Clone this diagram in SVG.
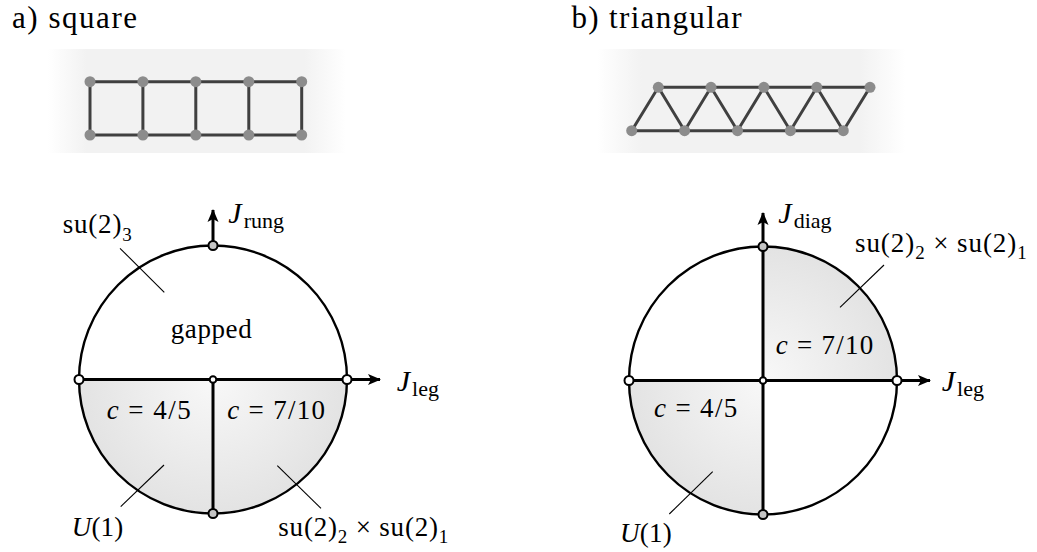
<svg xmlns="http://www.w3.org/2000/svg" width="1037" height="552" viewBox="0 0 1037 552">
<style>
text{font-family:"Liberation Serif","Times New Roman",serif;fill:#000}
.title{font-size:31px}
.lbl{font-size:27px}
.it{font-style:italic}
.sub{font-size:19px}
.jl{font-size:30px}
.js{font-size:22px}
.edge{stroke:#404040;stroke-width:3;fill:none}
.site{fill:#8c8c8c}
.rim{fill:none;stroke:#000;stroke-width:2.4}
.axis{stroke:#000;stroke-width:3;fill:none}
.lead{stroke:#000;stroke-width:1.1;fill:none}
.pw{fill:#fff;stroke:#000;stroke-width:2}
.pg{fill:#c4c4c4;stroke:#000;stroke-width:2}
</style>
<defs>
<linearGradient id="bgA" gradientUnits="userSpaceOnUse" x1="48" y1="0" x2="346" y2="0">
<stop offset="0" stop-color="#f2f2f2" stop-opacity="0"/>
<stop offset="0.13" stop-color="#f2f2f2"/>
<stop offset="0.86" stop-color="#f2f2f2"/>
<stop offset="1" stop-color="#f2f2f2" stop-opacity="0"/>
</linearGradient>
<linearGradient id="bgB" gradientUnits="userSpaceOnUse" x1="597" y1="0" x2="905" y2="0">
<stop offset="0" stop-color="#f2f2f2" stop-opacity="0"/>
<stop offset="0.146" stop-color="#f2f2f2"/>
<stop offset="0.854" stop-color="#f2f2f2"/>
<stop offset="1" stop-color="#f2f2f2" stop-opacity="0"/>
</linearGradient>
<radialGradient id="shA" gradientUnits="userSpaceOnUse" cx="213" cy="379.5" r="134">
<stop offset="0" stop-color="#f8f8f8"/>
<stop offset="1" stop-color="#e3e3e3"/>
</radialGradient>
<radialGradient id="shB" gradientUnits="userSpaceOnUse" cx="763" cy="380.5" r="134">
<stop offset="0" stop-color="#f8f8f8"/>
<stop offset="1" stop-color="#e3e3e3"/>
</radialGradient>
<marker id="arr" markerUnits="userSpaceOnUse" markerWidth="14" markerHeight="12" refX="12" refY="6" orient="auto" viewBox="0 0 14 12">
<path d="M0,0.5 L13,6 L0,11.5 L3,6 Z" fill="#000"/>
</marker>
</defs>

<!-- titles -->
<text id="title-a" class="title" x="12" y="28" textLength="125">a) square</text>
<text id="title-b" class="title" x="571.5" y="28" textLength="170">b) triangular</text>

<!-- square lattice -->
<g id="lattice-square">
<rect x="48" y="49" width="298" height="104" fill="url(#bgA)"/>
<path class="edge" d="M90,81.7 H301.7 M90,135 H301.7 M90,81.7 V135 M142.9,81.7 V135 M195.8,81.7 V135 M248.8,81.7 V135 M301.7,81.7 V135"/>
<g class="site">
<circle cx="90" cy="81.7" r="5.5"/><circle cx="142.9" cy="81.7" r="5.5"/><circle cx="195.8" cy="81.7" r="5.5"/><circle cx="248.8" cy="81.7" r="5.5"/><circle cx="301.7" cy="81.7" r="5.5"/>
<circle cx="90" cy="135" r="5.5"/><circle cx="142.9" cy="135" r="5.5"/><circle cx="195.8" cy="135" r="5.5"/><circle cx="248.8" cy="135" r="5.5"/><circle cx="301.7" cy="135" r="5.5"/>
</g>
</g>

<!-- triangular lattice -->
<g id="lattice-triangular">
<rect x="597" y="49" width="308" height="104" fill="url(#bgB)"/>
<path class="edge" d="M658.3,87.3 H870 M631.7,130.7 H843.3 M631.7,130.7 L658.3,87.3 L684.6,130.7 L711,87.3 L737.5,130.7 L763.9,87.3 L790.4,130.7 L816.8,87.3 L843.3,130.7 L870,87.3"/>
<g class="site">
<circle cx="658.3" cy="87.3" r="5.5"/><circle cx="711" cy="87.3" r="5.5"/><circle cx="763.9" cy="87.3" r="5.5"/><circle cx="816.8" cy="87.3" r="5.5"/><circle cx="870" cy="87.3" r="5.5"/>
<circle cx="631.7" cy="130.7" r="5.5"/><circle cx="684.6" cy="130.7" r="5.5"/><circle cx="737.5" cy="130.7" r="5.5"/><circle cx="790.4" cy="130.7" r="5.5"/><circle cx="843.3" cy="130.7" r="5.5"/>
</g>
</g>

<!-- phase diagram a -->
<g id="phase-a">
<path d="M79,379.5 A134,134 0 0 0 347,379.5 Z" fill="url(#shA)"/>
<circle class="rim" cx="213" cy="379.5" r="134"/>
</g>

<!-- phase diagram b -->
<g id="phase-b">
<path d="M763,380.5 V246.5 A134,134 0 0 1 897,380.5 Z" fill="url(#shB)"/>
<path d="M763,380.5 H629 A134,134 0 0 0 763,514.5 Z" fill="url(#shB)"/>
<circle class="rim" cx="763" cy="380.5" r="134"/>
</g>

<!-- connectors: axes and leader lines -->
<g id="connectors">
<line class="axis" x1="79" y1="379.5" x2="380" y2="379.5" marker-end="url(#arr)"/>
<line class="axis" x1="213" y1="245.5" x2="213" y2="210" marker-end="url(#arr)"/>
<line class="axis" x1="213" y1="379.5" x2="213" y2="513.5"/>
<line class="axis" x1="629" y1="380.5" x2="930" y2="380.5" marker-end="url(#arr)"/>
<line class="axis" x1="763" y1="514.5" x2="763" y2="213" marker-end="url(#arr)"/>
<line class="lead" x1="120" y1="248.3" x2="164.3" y2="292.3"/>
<line class="lead" x1="120.7" y1="506.7" x2="164" y2="465"/>
<line class="lead" x1="277.3" y1="465.7" x2="321" y2="508.3"/>
<line class="lead" x1="884" y1="265" x2="840" y2="307.3"/>
<line class="lead" x1="712.7" y1="471.7" x2="669.3" y2="514"/>
</g>

<!-- critical points -->
<g id="points-a">
<circle id="pa-top" class="pg" cx="213" cy="245.5" r="4.5"/>
<circle id="pa-left" class="pw" cx="79" cy="379.5" r="4.5"/>
<circle id="pa-right" class="pw" cx="347" cy="379.5" r="4.5"/>
<circle id="pa-center" class="pw" cx="213" cy="379.5" r="3.3"/>
<circle id="pa-bottom" class="pg" cx="213" cy="513.5" r="4.5"/>
</g>
<g id="points-b">
<circle id="pb-top" class="pg" cx="763" cy="246.5" r="4.5"/>
<circle id="pb-left" class="pw" cx="629" cy="380.5" r="4.5"/>
<circle id="pb-right" class="pw" cx="897" cy="380.5" r="4.5"/>
<circle id="pb-center" class="pw" cx="763" cy="380.5" r="3.3"/>
<circle id="pb-bottom" class="pg" cx="763" cy="514.5" r="4.5"/>
</g>

<!-- labels a -->
<g id="labels-a">
<text class="lbl" x="62.7" y="232.5" textLength="69">su(2)<tspan class="sub" dy="8">3</tspan></text>
<text class="lbl" x="228.3" y="223"><tspan class="it jl">J</tspan><tspan class="js" dx="2" dy="5">rung</tspan></text>
<text class="lbl" x="170.7" y="338" textLength="81">gapped</text>
<text class="lbl" x="396.7" y="391"><tspan class="it jl">J</tspan><tspan class="js" dx="2" dy="5">leg</tspan></text>
<text class="lbl" x="106.7" y="419" textLength="84"><tspan class="it">c</tspan> = 4/5</text>
<text class="lbl" x="227.3" y="419" textLength="97.7"><tspan class="it">c</tspan> = 7/10</text>
<text class="lbl" x="71.7" y="536" textLength="51.6"><tspan class="it">U</tspan>(1)</text>
<text class="lbl" x="278.3" y="536" textLength="170">su(2)<tspan class="sub" dy="7">2</tspan><tspan dy="-7"> × su(2)</tspan><tspan class="sub" dy="7">1</tspan></text>
</g>

<!-- labels b -->
<g id="labels-b">
<text class="lbl" x="778.3" y="223"><tspan class="it jl">J</tspan><tspan class="js" dx="2" dy="5">diag</tspan></text>
<text class="lbl" x="855" y="252" textLength="171.7">su(2)<tspan class="sub" dy="7">2</tspan><tspan dy="-7"> × su(2)</tspan><tspan class="sub" dy="7">1</tspan></text>
<text class="lbl" x="775.7" y="354" textLength="97.6"><tspan class="it">c</tspan> = 7/10</text>
<text class="lbl" x="941.7" y="391"><tspan class="it jl">J</tspan><tspan class="js" dx="2" dy="5">leg</tspan></text>
<text class="lbl" x="654" y="417" textLength="83.3"><tspan class="it">c</tspan> = 4/5</text>
<text class="lbl" x="620" y="542" textLength="51.7"><tspan class="it">U</tspan>(1)</text>
</g>
</svg>
